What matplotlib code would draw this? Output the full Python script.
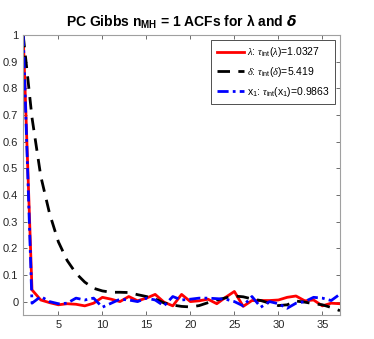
import matplotlib
matplotlib.use('Agg')
from matplotlib import pyplot as plt
import numpy as np

plt.rcParams['font.family'] = ['Liberation Sans', 'DejaVu Sans']
plt.rcParams['mathtext.fontset'] = 'custom'
plt.rcParams['mathtext.rm'] = 'Liberation Sans'
plt.rcParams['mathtext.it'] = 'Liberation Serif:italic'
plt.rcParams['mathtext.bf'] = 'Liberation Sans:bold'

# lags 1..37 (MATLAB index)
lags = np.arange(1, 38)

acf_lambda = [1.0, 0.044, 0.006, -0.004, -0.012, -0.008, -0.010, -0.016, -0.006, 0.016,
              0.009, 0.000, 0.019, 0.003, 0.013, 0.027, -0.002, -0.016, 0.027, 0.000,
              0.003, 0.009, -0.008, 0.016, 0.038, -0.018, 0.004, 0.004, 0.004, 0.006,
              0.016, 0.021, 0.003, 0.006, -0.016, -0.006, -0.008]

acf_delta = [1.0, 0.69, 0.47, 0.33, 0.224, 0.154, 0.106, 0.073, 0.050, 0.040,
             0.035, 0.035, 0.034, 0.026, 0.019, 0.010, -0.005, -0.013, -0.018, -0.020,
             -0.015, -0.004, 0.006, 0.014, 0.021, 0.018, 0.010, 0.004, -0.006, -0.015,
             -0.012, 0.002, -0.002, -0.008, -0.012, -0.022, -0.034]

acf_x1 = [1.0, -0.006, 0.019, 0.000, -0.008, -0.006, 0.013, 0.006, 0.013, -0.021,
          -0.006, 0.009, 0.006, 0.000, 0.013, 0.006, -0.016, 0.019, 0.006, 0.009,
          0.013, 0.013, 0.011, 0.009, 0.000, -0.016, 0.019, -0.021, 0.000, -0.008,
          -0.025, -0.006, 0.000, 0.016, 0.013, 0.004, 0.028]

labels = [r'$\lambda$: $\tau_{\rm int}(\lambda)$=1.0327',
          r'$\delta$: $\tau_{\rm int}(\delta)$=5.419',
          r'x$_1$: $\tau_{\rm int}$(x$_1$)=0.9863']

fig = plt.figure(figsize=(3.74, 3.39), dpi=100)
ax = fig.add_axes([0.062, 0.071, 0.847, 0.826])

ax.plot(lags, acf_lambda, color='#ff0000', lw=2, label=labels[0])
ax.plot(lags, acf_delta, color='k', lw=2, ls=(0, (4.5, 3)), label=labels[1])
ax.plot(lags, acf_x1, color='#0000ff', lw=2, ls=(0, (4, 1.5, 1, 1.5)), label=labels[2])

ax.set_xlim([1, 37])
ax.set_ylim([-0.05, 1])
ax.set_xticks(range(5, 36, 5))
ax.set_yticks([0, 0.1, 0.2, 0.3, 0.4, 0.5, 0.6, 0.7, 0.8, 0.9, 1])
ax.set_yticklabels(['0', '0.1', '0.2', '0.3', '0.4', '0.5', '0.6', '0.7', '0.8', '0.9', '1'])
ax.tick_params(direction='in', top=True, right=True, labelsize=8, length=3,
               color='#555555', labelcolor='#262626', width=0.6)
for s in ax.spines.values():
    s.set_color('#a0a0a0')
    s.set_linewidth(0.8)

ax.set_title(r'PC Gibbs $\mathbf{n}_{\mathbf{MH}}$ = 1 ACFs for $\boldsymbol{\lambda}$ and $\boldsymbol{\delta}$',
             fontsize=10, fontweight='bold', pad=6)

leg = ax.legend(loc='upper right', fontsize=7.5, handlelength=2.6, handletextpad=0.3,
                borderaxespad=0.5, fancybox=False, framealpha=1, labelspacing=0.55,
                borderpad=0.5)
leg.get_frame().set_edgecolor('#333333')
leg.get_frame().set_linewidth(0.6)

plt.savefig('out.png', dpi=100)
